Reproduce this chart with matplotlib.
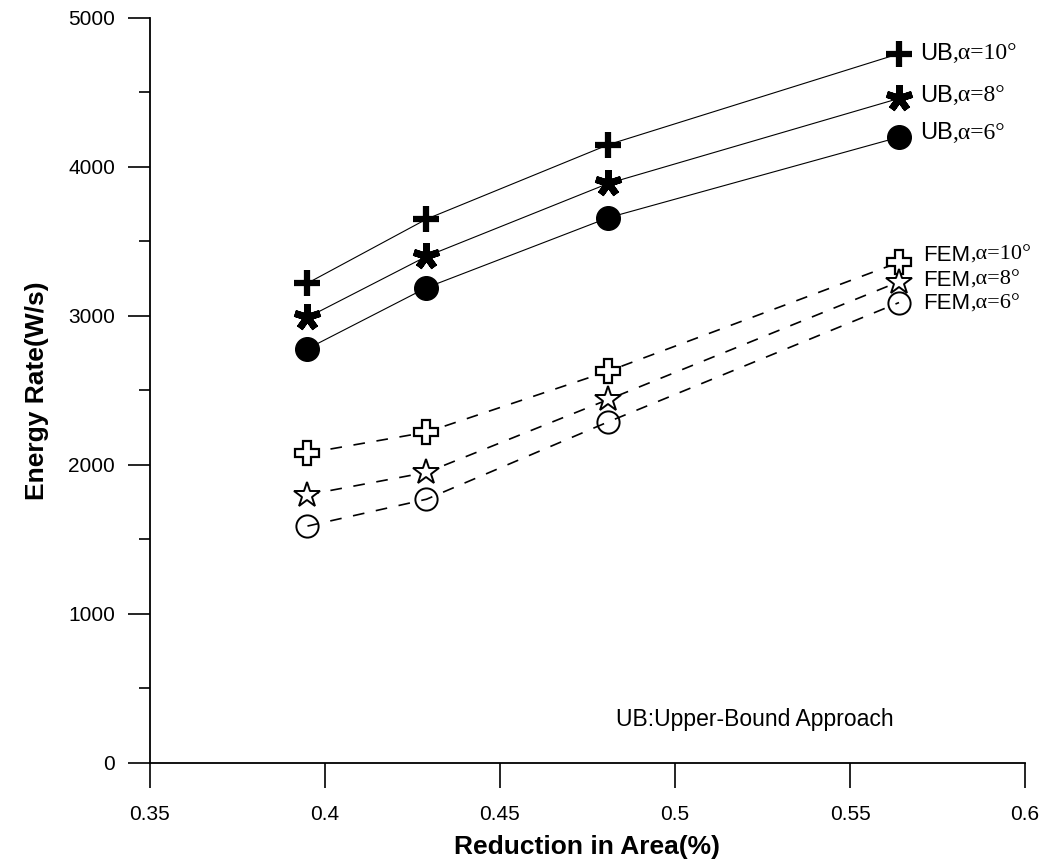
import numpy as np
import matplotlib.pyplot as plt
from matplotlib.ticker import MultipleLocator

# reduction in area values (x)
reduction = [0.395, 0.429, 0.481, 0.564]

# energy rate (W/s)
ub_10 = [3220, 3650, 4150, 4760]
ub_8 = [2990, 3400, 3890, 4460]
ub_6 = [2780, 3190, 3660, 4200]
fem_10 = [2080, 2220, 2630, 3360]
fem_8 = [1800, 1950, 2440, 3230]
fem_6 = [1590, 1770, 2290, 3090]

ub_names = [u',\u03b1=10\u00b0', u',\u03b1=8\u00b0', u',\u03b1=6\u00b0']
fem_names = [u',\u03b1=10\u00b0', u',\u03b1=8\u00b0', u',\u03b1=6\u00b0']

plt.rcParams['font.family'] = ['Liberation Sans', 'DejaVu Sans']

fig = plt.figure(figsize=(10.4, 8.68), dpi=100)
ax = fig.add_axes([0.1442, 0.1210, 0.8414, 0.8583])

# upper bound curves, solid thin lines
ax.plot(reduction, ub_10, color='k', lw=0.8, marker='+', ms=19, mew=4.5, clip_on=False)
ax.plot(reduction, ub_8, color='k', lw=0.8, marker=(5, 2, 0), ms=19, mew=5, clip_on=False)
ax.plot(reduction, ub_6, color='k', lw=0.8, marker='o', ms=17, mfc='k', mec='k', clip_on=False)

# FEM curves, dashed
dash = (7, 7)
ax.plot(reduction, fem_10, color='k', lw=1.2, dashes=dash, marker='P', ms=17,
        mfc='white', mec='k', mew=1.6, clip_on=False)
ax.plot(reduction, fem_8, color='k', lw=1.2, dashes=dash, marker='*', ms=19,
        mfc='white', mec='k', mew=1.4, clip_on=False)
ax.plot(reduction, fem_6, color='k', lw=1.2, dashes=dash, marker='o', ms=16,
        mfc='none', mec='k', mew=1.4, clip_on=False)


def label(series, prefix, name, dx, dy, size):
    t1 = ax.annotate(prefix, xy=(reduction[-1], series[-1]), xytext=(dx, dy),
                     textcoords='offset points', va='center', ha='left', fontsize=size)
    ax.annotate(name, xy=(1, 0.5), xycoords=t1, va='center', ha='left',
                fontsize=size, family='Liberation Serif')


label(ub_10, 'UB', ub_names[0], 15, 0, 17)
label(ub_8, 'UB', ub_names[1], 15, 2, 17)
label(ub_6, 'UB', ub_names[2], 15, 3, 17)
label(fem_10, 'FEM', fem_names[0], 17, 5, 16)
label(fem_8, 'FEM', fem_names[1], 17, 1, 16)
label(fem_6, 'FEM', fem_names[2], 17, -1, 16)

ax.text(0.4831, 290, 'UB:Upper-Bound Approach', fontsize=16.5, va='center', ha='left')

ax.set_xlim(0.35, 0.6)
ax.set_ylim(0, 5000)
ax.yaxis.set_major_locator(MultipleLocator(1000))
ax.yaxis.set_minor_locator(MultipleLocator(500))
ax.set_xticks([0.35, 0.4, 0.45, 0.5, 0.55, 0.6])
ax.set_xticklabels(['0.35', '0.4', '0.45', '0.5', '0.55', '0.6'])

ax.spines['top'].set_visible(False)
ax.spines['right'].set_visible(False)
ax.spines['left'].set_linewidth(1.3)
ax.spines['bottom'].set_linewidth(1.3)

ax.tick_params(axis='x', which='major', direction='out', length=18, width=1.2,
               pad=12, labelsize=15)
ax.tick_params(axis='y', which='major', direction='out', length=16, width=1.2,
               pad=9, labelsize=15)
ax.tick_params(axis='y', which='minor', direction='out', length=8, width=1.2)

ax.set_xlabel('Reduction in Area(%)', fontsize=19, fontweight='bold', labelpad=8)
ax.set_ylabel('Energy Rate(W/s)', fontsize=19, fontweight='bold', labelpad=14)

fig.savefig('out.png', dpi=100)
